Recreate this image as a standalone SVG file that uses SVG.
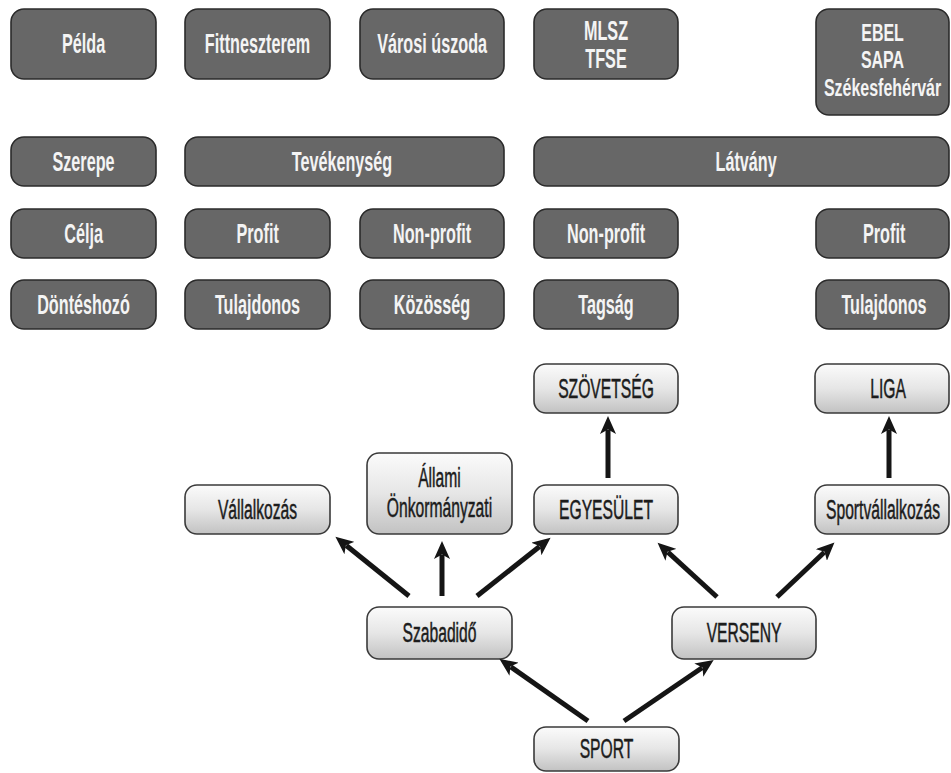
<svg xmlns="http://www.w3.org/2000/svg" width="951" height="773" viewBox="0 0 951 773">
  <style>
    .dark rect { fill: #676767; stroke: #2b2b2b; stroke-width: 1.6; }
    .dark text { fill: #f4f4f4; font-family: "Liberation Sans", "DejaVu Sans", sans-serif; font-weight: bold; font-size: 27px; text-anchor: middle; transform-box: fill-box; transform-origin: center; transform: scaleX(0.6); }
    .dark text.tight { font-size: 23.5px; transform: scaleX(0.68); }
    .light rect { fill: url(#lightFill); stroke: #3a3a3a; stroke-width: 1.6; }
    .light text { fill: #1c1c1c; stroke: #1c1c1c; stroke-width: 0.5; font-family: "Liberation Sans", "DejaVu Sans", sans-serif; font-size: 27px; text-anchor: middle; transform-box: fill-box; transform-origin: center; transform: scaleX(0.58); }
    .conn path { fill: none; stroke: #151515; stroke-width: 5; stroke-linecap: butt; marker-end: url(#head); }
  </style>
  <defs>
    <linearGradient id="lightFill" x1="0" y1="0" x2="0" y2="1">
      <stop offset="0" stop-color="#fbfbfb"/>
      <stop offset="0.5" stop-color="#e6e6e6"/>
      <stop offset="1" stop-color="#c2c2c2"/>
    </linearGradient>
    <marker id="head" markerUnits="userSpaceOnUse" markerWidth="19" markerHeight="16" refX="4" refY="8" orient="auto" viewBox="0 0 19 16">
      <path d="M0,0 L18,8 L0,16 L4.5,8 Z" fill="#151515"/>
    </marker>
  </defs>

  <rect width="951" height="773" fill="#ffffff"/>

  <!-- examples row -->
  <g id="n-pelda" class="dark"><rect x="11" y="9" width="145" height="70" rx="13"/><text x="83.5" y="53.5">Példa</text></g>
  <g id="n-fitness" class="dark"><rect x="185" y="9" width="145" height="70" rx="13"/><text x="257.5" y="53.5">Fittneszterem</text></g>
  <g id="n-uszoda" class="dark"><rect x="360" y="9" width="144" height="70" rx="13"/><text x="432" y="53.5">Városi úszoda</text></g>
  <g id="n-mlsz" class="dark"><rect x="534" y="9" width="144" height="70" rx="13"/><text x="606" y="40"><tspan x="606" y="40">MLSZ</tspan><tspan x="606" y="68">TFSE</tspan></text></g>
  <g id="n-ebel" class="dark"><rect x="816" y="9" width="133" height="106" rx="13"/><text class="tight" x="882.5" y="41"><tspan x="882.5" y="41">EBEL</tspan><tspan x="882.5" y="68.5">SAPA</tspan><tspan x="882.5" y="96">Székesfehérvár</tspan></text></g>

  <!-- role row -->
  <g id="n-szerepe" class="dark"><rect x="11" y="137" width="145" height="49" rx="13"/><text x="83.5" y="171">Szerepe</text></g>
  <g id="n-tevekenyseg" class="dark"><rect x="185" y="137" width="319" height="49" rx="13"/><text x="342" y="171">Tevékenység</text></g>
  <g id="n-latvany" class="dark"><rect x="534" y="137" width="415" height="49" rx="13"/><text x="746" y="171">Látvány</text></g>

  <!-- goal row -->
  <g id="n-celja" class="dark"><rect x="11" y="209" width="145" height="49" rx="13"/><text x="83.5" y="243">Célja</text></g>
  <g id="n-profit1" class="dark"><rect x="185" y="209" width="145" height="49" rx="13"/><text x="257.5" y="243">Profit</text></g>
  <g id="n-nonprofit1" class="dark"><rect x="360" y="209" width="144" height="49" rx="13"/><text x="432" y="243">Non-profit</text></g>
  <g id="n-nonprofit2" class="dark"><rect x="534" y="209" width="144" height="49" rx="13"/><text x="606" y="243">Non-profit</text></g>
  <g id="n-profit2" class="dark"><rect x="816" y="209" width="133" height="49" rx="13"/><text x="884" y="243">Profit</text></g>

  <!-- decision-maker row -->
  <g id="n-dontes" class="dark"><rect x="11" y="280" width="145" height="49" rx="13"/><text x="83.5" y="314">Döntéshozó</text></g>
  <g id="n-tulaj1" class="dark"><rect x="185" y="280" width="145" height="49" rx="13"/><text x="257.5" y="314">Tulajdonos</text></g>
  <g id="n-kozosseg" class="dark"><rect x="360" y="280" width="144" height="49" rx="13"/><text x="432" y="314">Közösség</text></g>
  <g id="n-tagsag" class="dark"><rect x="534" y="280" width="144" height="49" rx="13"/><text x="606" y="314">Tagság</text></g>
  <g id="n-tulaj2" class="dark"><rect x="816" y="280" width="133" height="49" rx="13"/><text x="884" y="314">Tulajdonos</text></g>

  <!-- tree -->
  <g id="n-szovetseg" class="light"><rect x="534" y="364" width="144" height="49" rx="12"/><text x="606" y="398">SZÖVETSÉG</text></g>
  <g id="n-liga" class="light"><rect x="815" y="364" width="134" height="49" rx="12"/><text x="888" y="398">LIGA</text></g>
  <g id="n-vallalkozas" class="light"><rect x="185" y="485" width="145" height="49" rx="12"/><text x="257.5" y="519">Vállalkozás</text></g>
  <g id="n-allami" class="light"><rect x="367" y="453" width="145" height="81" rx="12"/><text x="439.5" y="487"><tspan x="439.5" y="487">Állami</tspan><tspan x="439.5" y="517">Önkormányzati</tspan></text></g>
  <g id="n-egyesulet" class="light"><rect x="534" y="485" width="144" height="49" rx="12"/><text x="606" y="519">EGYESÜLET</text></g>
  <g id="n-sportvall" class="light"><rect x="815" y="485" width="134" height="49" rx="12"/><text x="883" y="519">Sportvállalkozás</text></g>
  <g id="n-szabadido" class="light"><rect x="367" y="607" width="145" height="52" rx="12"/><text x="439.5" y="642.5">Szabadidő</text></g>
  <g id="n-verseny" class="light"><rect x="672" y="607" width="144" height="52" rx="12"/><text x="744" y="642.5">VERSENY</text></g>
  <g id="n-sport" class="light"><rect x="534" y="727" width="145" height="44" rx="12"/><text x="606.5" y="758.5">SPORT</text></g>

  <g id="connectors" class="conn">
    <path d="M588,721 L510.8,666.9"/>
    <path d="M624,721 L702.1,667.8"/>
    <path d="M409,596 L346.3,545.5"/>
    <path d="M442,596 L442,555"/>
    <path d="M477,596 L539.6,546.5"/>
    <path d="M717,597 L667.9,552.1"/>
    <path d="M777,597 L824.3,552.2"/>
    <path d="M608,478 L608,430"/>
    <path d="M889,478 L889,430"/>
  </g>
</svg>
